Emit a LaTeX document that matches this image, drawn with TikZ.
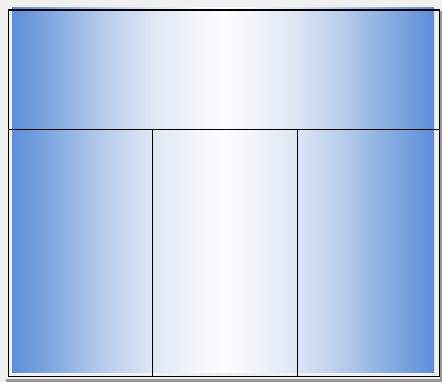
\documentclass[tikz,border=0pt]{standalone}
\begin{document}
\definecolor{bggray}{RGB}{240,240,240}
\definecolor{shadowgray}{RGB}{150,150,150}
\pgfdeclarehorizontalshading{bluewhiteblue}{100bp}{%
  rgb(0bp)=(0.361,0.557,0.847);
  rgb(25bp)=(0.361,0.557,0.847);
  rgb(31bp)=(0.549,0.690,0.886);
  rgb(36bp)=(0.722,0.804,0.925);
  rgb(41.5bp)=(0.867,0.906,0.961);
  rgb(47bp)=(0.953,0.965,0.988);
  rgb(50bp)=(0.992,0.992,1.0);
  rgb(53bp)=(0.953,0.965,0.988);
  rgb(58.5bp)=(0.867,0.906,0.961);
  rgb(64bp)=(0.722,0.804,0.925);
  rgb(69bp)=(0.549,0.690,0.886);
  rgb(75bp)=(0.361,0.557,0.847);
  rgb(100bp)=(0.361,0.557,0.847)}
\begin{tikzpicture}[x=1pt,y=-1pt,
  frame/.style={draw=black,line width=1.2pt},
  divider/.style={draw=black,line width=1pt}]
\useasboundingbox (0,0) rectangle (442,382);
\fill[bggray] (0,0) rectangle (442,382);
% shadow
\fill[shadowgray] (6,379) rectangle (442,382);
\fill[shadowgray] (440,11) rectangle (442,382);
% gradient fill
\shade[shading=bluewhiteblue] (12,8) rectangle (434,372);
% frame
\draw[frame] (8.5,10) rectangle (439.5,376.5);
% dividers
\coordinate (hl) at (8.5,129.5);
\coordinate (hr) at (439.5,129.5);
\coordinate (v1t) at (152.5,129.5);
\coordinate (v1b) at (152.5,376.5);
\coordinate (v2t) at (297,129.5);
\coordinate (v2b) at (297,376.5);
\draw[divider] (hl) -- (hr);
\draw[divider] (v1t) -- (v1b);
\draw[divider] (v2t) -- (v2b);
\end{tikzpicture}
\end{document}
